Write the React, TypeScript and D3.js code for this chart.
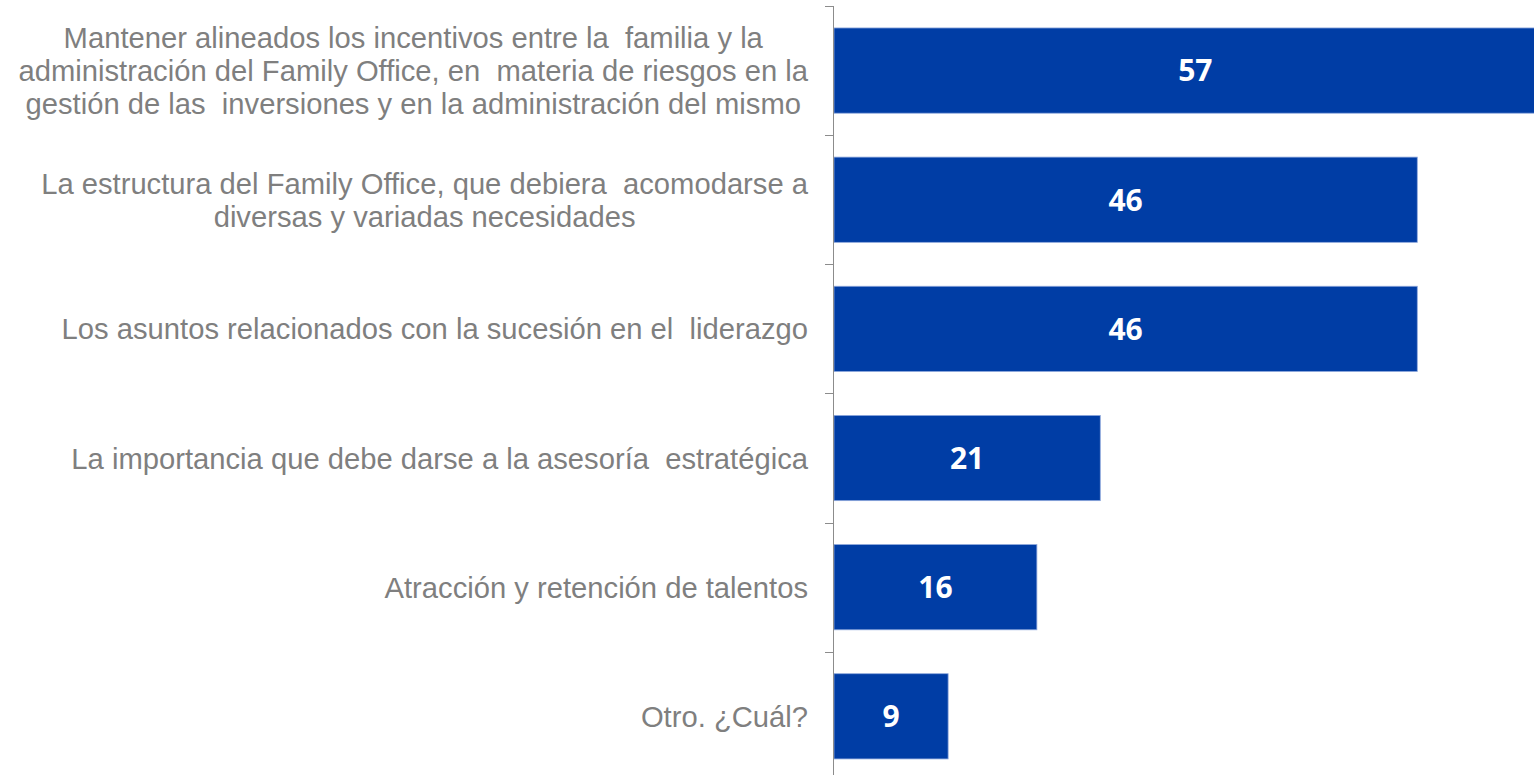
import React, { useEffect, useRef } from "react";
import * as d3 from "d3";

const categories: string[][] = [
  [
    "Mantener alineados los incentivos entre la  familia y la",
    "administración del Family Office, en  materia de riesgos en la",
    "gestión de las  inversiones y en la administración del mismo",
  ],
  ["La estructura del Family Office, que debiera  acomodarse a", "diversas y variadas necesidades"],
  ["Los asuntos relacionados con la sucesión en el  liderazgo"],
  ["La importancia que debe darse a la asesoría  estratégica"],
  ["Atracción y retención de talentos"],
  ["Otro. ¿Cuál?"],
];
const values: number[] = [57, 46, 46, 21, 16, 9];

const W = 1534;
const H = 775;
const AXIS_X = 834;
const TOP = 6;
const STEP = 129.15;
const LABEL_RIGHT = 808;
const LINE_H = 33;

export default function App() {
  const ref = useRef<SVGSVGElement | null>(null);

  useEffect(() => {
    const svg = d3.select(ref.current);
    svg.selectAll("*").remove();
    const ids = values.map((_, i) => String(i));
    const y = d3
      .scaleBand<string>()
      .domain(ids)
      .range([TOP, TOP + STEP * ids.length])
      .paddingInner(0.34)
      .paddingOuter(0.17);
    const x = d3.scaleLinear().domain([0, 60]).range([AXIS_X, AXIS_X + 60 * 12.68]);

    // bars
    svg
      .append("g")
      .selectAll("rect")
      .data(values)
      .join("rect")
      .attr("x", x(0))
      .attr("y", (_, i) => y(ids[i])!)
      .attr("width", (d) => x(d) - x(0))
      .attr("height", y.bandwidth())
      .attr("fill", "#003da5")
      .attr("stroke", "#8ea8dc")
      .attr("stroke-width", 0.8);

    // value labels
    svg
      .append("g")
      .selectAll("text")
      .data(values)
      .join("text")
      .attr("x", (d) => (x(0) + x(d)) / 2)
      .attr("y", (_, i) => y(ids[i])! + y.bandwidth() / 2)
      .attr("dy", "0.36em")
      .attr("text-anchor", "middle")
      .attr("fill", "#ffffff")
      .attr("font-family", "'Open Sans', Lato, sans-serif")
      .attr("font-weight", 700)
      .attr("font-size", 30)
      .text((d) => String(d));

    // axis line
    svg
      .append("line")
      .attr("x1", AXIS_X - 0.5)
      .attr("x2", AXIS_X - 0.5)
      .attr("y1", TOP)
      .attr("y2", TOP + STEP * ids.length)
      .attr("stroke", "#8c8c8c")
      .attr("stroke-width", 1);

    // ticks at band boundaries
    const bounds = d3.range(ids.length + 1).map((i) => TOP + i * y.step());
    svg
      .append("g")
      .selectAll("line")
      .data(bounds)
      .join("line")
      .attr("x1", AXIS_X - 9)
      .attr("x2", AXIS_X)
      .attr("y1", (d) => Math.round(d) + 0.5)
      .attr("y2", (d) => Math.round(d) + 0.5)
      .attr("stroke", "#8c8c8c")
      .attr("stroke-width", 1);

    // category labels
    const lg = svg.append("g");
    categories.forEach((lines, i) => {
      const cy = y(ids[i])! + y.bandwidth() / 2;
      const t = lg
        .append("text")
        .attr("fill", "#7f7f7f")
        .attr("font-family", "Arial, 'Liberation Sans', sans-serif")
        .attr("font-size", 29.2)
        .attr("text-anchor", "middle");
      const spans = lines.map((ln, j) =>
        t
          .append("tspan")
          .attr("y", cy + (j - (lines.length - 1) / 2) * LINE_H)
          .attr("dy", "0.36em")
          .style("white-space", "pre")
          .text(ln)
      );
      let maxW = 0;
      spans.forEach((s) => {
        const n = s.node() as SVGTSpanElement;
        maxW = Math.max(maxW, n.getComputedTextLength());
      });
      const cx = LABEL_RIGHT - maxW / 2;
      spans.forEach((s) => s.attr("x", cx));
    });
  }, []);

  return (
    <svg
      ref={ref}
      width={W}
      height={H}
      style={{ position: "absolute", left: 0, top: 0, background: "#ffffff", overflow: "hidden" }}
    />
  );
}
